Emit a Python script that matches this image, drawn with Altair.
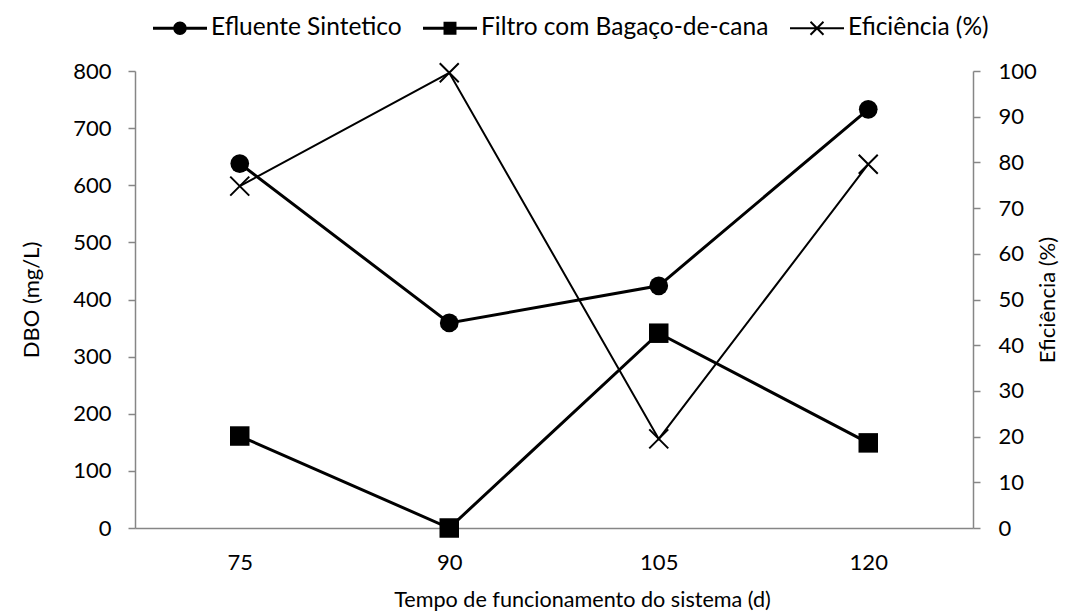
import altair as alt
import pandas as pd

# Tempo de funcionamento (d) and measured series
tempo = ["75", "90", "105", "120"]
efluente = [638, 359, 424, 733]      # DBO, mg/L
filtro = [161, 0, 341, 149]          # DBO, mg/L
eficiencia = [74.8, 99.6, 19.5, 79.6]  # %

series_names = ["Efluente Sintetico", "Filtro com Bagaço-de-cana", "Eficiência (%)"]
dbo_ticks = list(range(0, 801, 100))
efic_ticks = list(range(0, 101, 10))

FONT = "Lato"
GRAY = "#868686"
BLACK = "#000000"

dbo = pd.DataFrame({
    "tempo": tempo * 2,
    "valor": efluente + filtro,
    "serie": [series_names[0]] * len(tempo) + [series_names[1]] * len(tempo),
})
efic = pd.DataFrame({"tempo": tempo, "valor": eficiencia, "serie": series_names[2]})
legend_df = pd.concat([dbo, efic], ignore_index=True)

# legend glyphs (filled outlines): a short bar for the line with the marker on top
legend_paths = [
    "M-1,-0.055H1V0.055H-1Z"
    "M0.25,0A0.25,0.25 0 1,1 -0.25,0A0.25,0.25 0 1,1 0.25,0Z",
    "M-1,-0.055H1V0.055H-1Z"
    "M-0.24,-0.24H0.24V0.24H-0.24Z",
    "M-1,-0.037H1V0.037H-1Z"
    "M-0.214,-0.266L0.266,0.214L0.214,0.266L-0.266,-0.214Z"
    "M0.266,-0.214L-0.214,0.266L-0.266,0.214L0.214,-0.266Z",
]
x_mark_path = "M-1,-1L1,1M-1,1L1,-1"

x_enc = alt.X(
    "tempo:O",
    sort=tempo,
    scale=alt.Scale(type="point", padding=0.5),
    axis=alt.Axis(
        title="Tempo de funcionamento do sistema (d)",
        labelAngle=0,
        ticks=False,
        tickSize=0,
        grid=False,
        domainColor=GRAY,
        domainWidth=1.5,
        labelFont=FONT,
        labelFontSize=22,
        labelColor=BLACK,
        labelBaseline="middle",
        labelPadding=34,
        titleFont=FONT,
        titleFontSize=21.6,
        titleFontWeight="normal",
        titleColor=BLACK,
        titleX=447,
        titleY=72,
        titleBaseline="middle",
    ),
)

y_left = alt.Y(
    "valor:Q",
    scale=alt.Scale(domain=[0, 800], nice=False),
    axis=alt.Axis(
        orient="left",
        title="DBO (mg/L)",
        values=dbo_ticks,
        grid=False,
        domainColor=GRAY,
        domainWidth=1.5,
        tickColor=GRAY,
        tickWidth=1.5,
        tickSize=7,
        labelFont=FONT,
        labelFontSize=22,
        labelColor=BLACK,
        labelPadding=17,
        titleFont=FONT,
        titleFontSize=22,
        titleFontWeight="normal",
        titleColor=BLACK,
        titleAngle=270,
        titleX=-104,
        titleY=228.5,
        titleAlign="center",
        titleBaseline="middle",
    ),
)

y_right = alt.Y(
    "valor:Q",
    scale=alt.Scale(domain=[0, 100], nice=False),
    axis=alt.Axis(
        orient="right",
        title="Eficiência (%)",
        values=efic_ticks,
        grid=False,
        domainColor=GRAY,
        domainWidth=1.5,
        tickColor=GRAY,
        tickWidth=1.5,
        tickSize=7,
        labelFont=FONT,
        labelFontSize=22,
        labelColor=BLACK,
        labelPadding=18,
        titleFont=FONT,
        titleFontSize=22,
        titleFontWeight="normal",
        titleColor=BLACK,
        titleAngle=270,
        titleX=74,
        titleY=228.5,
        titleAlign="center",
        titleBaseline="middle",
    ),
)

dbo_base = alt.Chart(dbo).encode(x=x_enc, y=y_left)

dbo_lines = dbo_base.mark_line(color=BLACK, strokeWidth=3).encode(detail="serie:N")
efl_pts = dbo_base.mark_point(
    shape="circle", filled=True, color=BLACK, size=350, opacity=1
).transform_filter(alt.datum.serie == series_names[0])
fil_pts = dbo_base.mark_point(
    shape="square", filled=True, color=BLACK, size=380, opacity=1
).transform_filter(alt.datum.serie == series_names[1])

legend_layer = alt.Chart(legend_df).mark_point(
    filled=True, color=BLACK, opacity=0
).encode(
    x=alt.X("tempo:O", sort=tempo),
    y=alt.Y("valor:Q"),
    shape=alt.Shape(
        "serie:N",
        sort=series_names,
        scale=alt.Scale(domain=series_names, range=legend_paths),
        legend=alt.Legend(
            title=None,
            orient="none",
            direction="horizontal",
            legendX=18,
            legendY=-70,
            symbolSize=2916,
            symbolFillColor=BLACK,
            symbolStrokeWidth=0,
            symbolOpacity=1,
            labelFont=FONT,
            labelFontSize=24.5,
            labelColor=BLACK,
            labelOffset=4,
            columnPadding=21,
            labelLimit=400,
        ),
    ),
)

left = alt.layer(dbo_lines, efl_pts, fil_pts, legend_layer)

efic_base = alt.Chart(efic).encode(x=x_enc, y=y_right)
efic_line = efic_base.mark_line(color=BLACK, strokeWidth=2)
efic_pts = efic_base.mark_point(
    shape=x_mark_path, filled=False, color=BLACK, strokeWidth=2, size=361, opacity=1
)
right = alt.layer(efic_line, efic_pts)

chart = (
    alt.layer(left, right)
    .resolve_scale(y="independent")
    .properties(
        width=838,
        height=457,
        autosize=alt.AutoSizeParams(type="none"),
        padding={"left": 135, "top": 71, "right": 104, "bottom": 88},
        background="white",
    )
    .configure_view(stroke=None)
)

chart.save("out.html", embed_options={"renderer": "svg", "actions": False})
